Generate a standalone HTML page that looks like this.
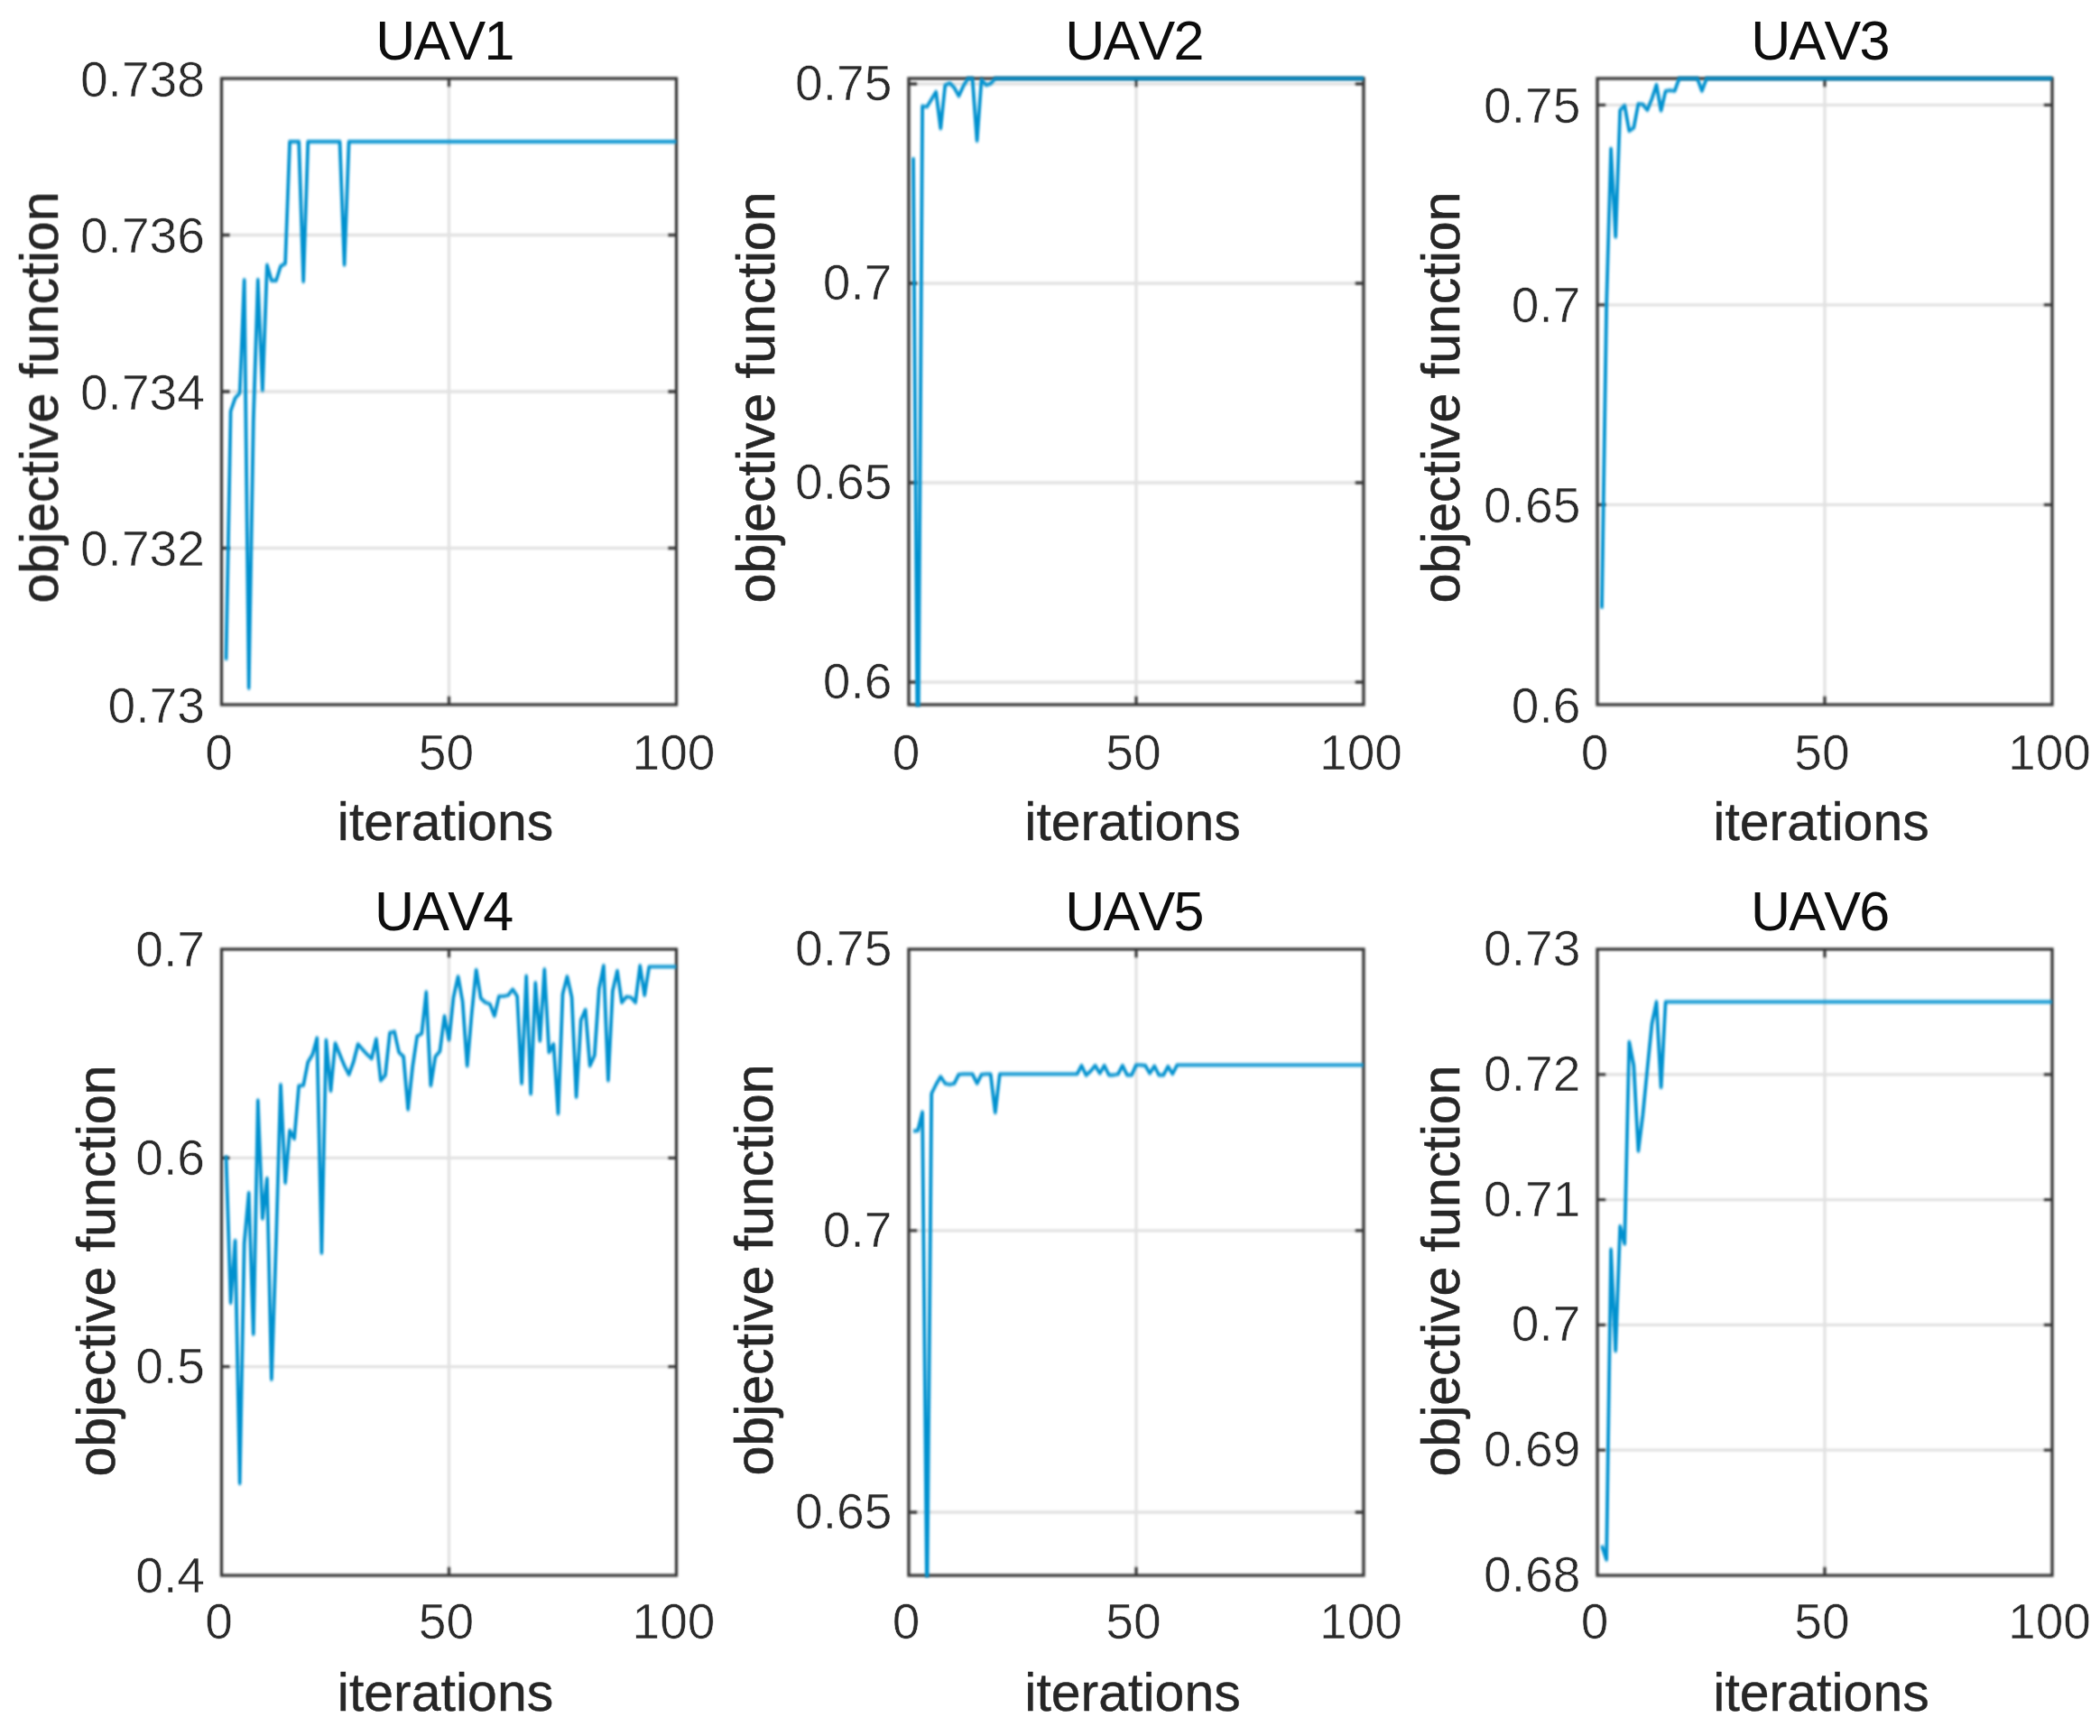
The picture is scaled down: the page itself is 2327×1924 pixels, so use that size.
<!DOCTYPE html>
<html lang="en"><head><meta charset="utf-8"><title>UAV objective function vs iterations</title>
<style>html,body{margin:0;padding:0;background:#fff}svg{display:block}text{font-family:"Liberation Sans",Arial,Helvetica,sans-serif}.tk{font-size:55.2px;fill:#2a2a2a;stroke:#fff;stroke-width:0.6px}.lb{font-size:59px;fill:#262626;stroke:#262626;stroke-width:0.4px}.yl{stroke-width:0.6px}.tt{font-size:61px;fill:#0a0a0a;font-kerning:none;letter-spacing:-1.75px}</style></head><body>
<svg width="2327" height="1924" viewBox="0 0 2327 1924">
<defs><filter id="bl" filterUnits="userSpaceOnUse" x="0" y="0" width="2327" height="1924"><feGaussianBlur stdDeviation="1.3"/></filter><filter id="bd" filterUnits="userSpaceOnUse" x="0" y="0" width="2327" height="1924"><feGaussianBlur stdDeviation="0.8 1.5"/></filter><filter id="bt" filterUnits="userSpaceOnUse" x="0" y="0" width="2327" height="1924"><feGaussianBlur stdDeviation="0.7"/></filter></defs>
<rect width="2327" height="1924" fill="#fff"/>
<g filter="url(#bl)">
<g id="ax1">
<clipPath id="c0"><rect x="245.5" y="85.8" width="505.0" height="696.4"/></clipPath>
<path d="M245.5 260.5H749.5M245.5 434H749.5M245.5 607.5H749.5M497.5 87V781" stroke="#e2e2e2" stroke-width="3.3" fill="none"/>
<rect x="245.5" y="87" width="504.0" height="694" fill="none" stroke="#383838" stroke-width="3.3"/>
<path d="M245.5 260.5h9.5M749.5 260.5h-9.5M245.5 434h9.5M749.5 434h-9.5M245.5 607.5h9.5M749.5 607.5h-9.5M497.5 781v-9.5M497.5 87v9.5" stroke="#383838" stroke-width="3.3" fill="none"/>
</g>
<g id="ax2">
<clipPath id="c1"><rect x="1007" y="85.8" width="505" height="696.4"/></clipPath>
<path d="M1007 93H1511M1007 314H1511M1007 535H1511M1007 756H1511M1259 87V781" stroke="#e2e2e2" stroke-width="3.3" fill="none"/>
<rect x="1007" y="87" width="504" height="694" fill="none" stroke="#383838" stroke-width="3.3"/>
<path d="M1007 93h9.5M1511 93h-9.5M1007 314h9.5M1511 314h-9.5M1007 535h9.5M1511 535h-9.5M1007 756h9.5M1511 756h-9.5M1259 781v-9.5M1259 87v9.5" stroke="#383838" stroke-width="3.3" fill="none"/>
</g>
<g id="ax3">
<clipPath id="c2"><rect x="1770" y="85.8" width="505" height="696.4"/></clipPath>
<path d="M1770 116.3H2274M1770 337.9H2274M1770 559.4H2274M2022 87V781" stroke="#e2e2e2" stroke-width="3.3" fill="none"/>
<rect x="1770" y="87" width="504" height="694" fill="none" stroke="#383838" stroke-width="3.3"/>
<path d="M1770 116.3h9.5M2274 116.3h-9.5M1770 337.9h9.5M2274 337.9h-9.5M1770 559.4h9.5M2274 559.4h-9.5M2022 781v-9.5M2022 87v9.5" stroke="#383838" stroke-width="3.3" fill="none"/>
</g>
<g id="ax4">
<clipPath id="c3"><rect x="245.5" y="1050.8" width="505.0" height="696.4"/></clipPath>
<path d="M245.5 1283.3H749.5M245.5 1514.7H749.5M497.5 1052V1746" stroke="#e2e2e2" stroke-width="3.3" fill="none"/>
<rect x="245.5" y="1052" width="504.0" height="694" fill="none" stroke="#383838" stroke-width="3.3"/>
<path d="M245.5 1283.3h9.5M749.5 1283.3h-9.5M245.5 1514.7h9.5M749.5 1514.7h-9.5M497.5 1746v-9.5M497.5 1052v9.5" stroke="#383838" stroke-width="3.3" fill="none"/>
</g>
<g id="ax5">
<clipPath id="c4"><rect x="1007" y="1050.8" width="505" height="696.4"/></clipPath>
<path d="M1007 1363.8H1511M1007 1676H1511M1259 1052V1746" stroke="#e2e2e2" stroke-width="3.3" fill="none"/>
<rect x="1007" y="1052" width="504" height="694" fill="none" stroke="#383838" stroke-width="3.3"/>
<path d="M1007 1363.8h9.5M1511 1363.8h-9.5M1007 1676h9.5M1511 1676h-9.5M1259 1746v-9.5M1259 1052v9.5" stroke="#383838" stroke-width="3.3" fill="none"/>
</g>
<g id="ax6">
<clipPath id="c5"><rect x="1770" y="1050.8" width="505" height="696.4"/></clipPath>
<path d="M1770 1190.8H2274M1770 1329.6H2274M1770 1468.4H2274M1770 1607.2H2274M2022 1052V1746" stroke="#e2e2e2" stroke-width="3.3" fill="none"/>
<rect x="1770" y="1052" width="504" height="694" fill="none" stroke="#383838" stroke-width="3.3"/>
<path d="M1770 1190.8h9.5M2274 1190.8h-9.5M1770 1329.6h9.5M2274 1329.6h-9.5M1770 1468.4h9.5M2274 1468.4h-9.5M1770 1607.2h9.5M2274 1607.2h-9.5M2022 1746v-9.5M2022 1052v9.5" stroke="#383838" stroke-width="3.3" fill="none"/>
</g>
</g>
<g filter="url(#bd)">
<polyline clip-path="url(#c0)" points="250.5,731.6 255.6,455.7 260.6,441.3 265.7,435.5 270.7,310.2 275.7,762.6 280.8,466.0 285.8,310.0 290.9,432.6 295.9,293.6 300.9,311.0 306.0,311.0 311.0,295.0 316.1,292.0 321.1,157.0 326.1,157.0 331.2,157.0 336.2,312.0 341.3,157.0 346.3,157.0 351.3,157.0 356.4,157.0 361.4,157.0 366.5,157.0 371.5,157.0 376.5,157.0 381.6,293.6 386.6,157.0 391.7,157.0 396.7,157.0 401.7,157.0 406.8,157.0 411.8,157.0 416.9,157.0 421.9,157.0 426.9,157.0 432.0,157.0 437.0,157.0 442.1,157.0 447.1,157.0 452.1,157.0 457.2,157.0 462.2,157.0 467.3,157.0 472.3,157.0 477.3,157.0 482.4,157.0 487.4,157.0 492.5,157.0 497.5,157.0 502.5,157.0 507.6,157.0 512.6,157.0 517.7,157.0 522.7,157.0 527.7,157.0 532.8,157.0 537.8,157.0 542.9,157.0 547.9,157.0 552.9,157.0 558.0,157.0 563.0,157.0 568.1,157.0 573.1,157.0 578.1,157.0 583.2,157.0 588.2,157.0 593.3,157.0 598.3,157.0 603.3,157.0 608.4,157.0 613.4,157.0 618.5,157.0 623.5,157.0 628.5,157.0 633.6,157.0 638.6,157.0 643.7,157.0 648.7,157.0 653.7,157.0 658.8,157.0 663.8,157.0 668.9,157.0 673.9,157.0 678.9,157.0 684.0,157.0 689.0,157.0 694.1,157.0 699.1,157.0 704.1,157.0 709.2,157.0 714.2,157.0 719.3,157.0 724.3,157.0 729.3,157.0 734.4,157.0 739.4,157.0 744.5,157.0 749.5,157.0" fill="none" stroke="#0091cf" stroke-width="3.8" stroke-linejoin="round" stroke-linecap="butt"/>
<polyline clip-path="url(#c1)" points="1012.0,174.6 1017.1,900.0 1022.1,117.5 1027.2,118.4 1032.2,110.0 1037.2,101.8 1042.3,142.4 1047.3,94.4 1052.4,92.1 1057.4,97.2 1062.4,106.4 1067.5,95.4 1072.5,87.0 1077.6,87.0 1082.6,156.2 1087.6,88.0 1092.7,94.4 1097.7,92.6 1102.8,87.0 1107.8,87.0 1112.8,87.0 1117.9,87.0 1122.9,87.0 1128.0,87.0 1133.0,87.0 1138.0,87.0 1143.1,87.0 1148.1,87.0 1153.2,87.0 1158.2,87.0 1163.2,87.0 1168.3,87.0 1173.3,87.0 1178.4,87.0 1183.4,87.0 1188.4,87.0 1193.5,87.0 1198.5,87.0 1203.6,87.0 1208.6,87.0 1213.6,87.0 1218.7,87.0 1223.7,87.0 1228.8,87.0 1233.8,87.0 1238.8,87.0 1243.9,87.0 1248.9,87.0 1254.0,87.0 1259.0,87.0 1264.0,87.0 1269.1,87.0 1274.1,87.0 1279.2,87.0 1284.2,87.0 1289.2,87.0 1294.3,87.0 1299.3,87.0 1304.4,87.0 1309.4,87.0 1314.4,87.0 1319.5,87.0 1324.5,87.0 1329.6,87.0 1334.6,87.0 1339.6,87.0 1344.7,87.0 1349.7,87.0 1354.8,87.0 1359.8,87.0 1364.8,87.0 1369.9,87.0 1374.9,87.0 1380.0,87.0 1385.0,87.0 1390.0,87.0 1395.1,87.0 1400.1,87.0 1405.2,87.0 1410.2,87.0 1415.2,87.0 1420.3,87.0 1425.3,87.0 1430.4,87.0 1435.4,87.0 1440.4,87.0 1445.5,87.0 1450.5,87.0 1455.6,87.0 1460.6,87.0 1465.6,87.0 1470.7,87.0 1475.7,87.0 1480.8,87.0 1485.8,87.0 1490.8,87.0 1495.9,87.0 1500.9,87.0 1506.0,87.0 1511.0,87.0" fill="none" stroke="#0091cf" stroke-width="3.8" stroke-linejoin="round" stroke-linecap="butt"/>
<polyline clip-path="url(#c2)" points="1775.0,674.4 1780.1,338.0 1785.1,164.7 1790.2,262.6 1795.2,122.0 1800.2,116.9 1805.3,145.1 1810.3,141.7 1815.4,115.2 1820.4,115.7 1825.4,122.0 1830.5,109.4 1835.5,93.9 1840.6,122.7 1845.6,100.8 1850.6,100.2 1855.7,100.8 1860.7,87.0 1865.8,87.0 1870.8,87.0 1875.8,87.0 1880.9,87.0 1885.9,100.8 1891.0,87.0 1896.0,87.0 1901.0,87.0 1906.1,87.0 1911.1,87.0 1916.2,87.0 1921.2,87.0 1926.2,87.0 1931.3,87.0 1936.3,87.0 1941.4,87.0 1946.4,87.0 1951.4,87.0 1956.5,87.0 1961.5,87.0 1966.6,87.0 1971.6,87.0 1976.6,87.0 1981.7,87.0 1986.7,87.0 1991.8,87.0 1996.8,87.0 2001.8,87.0 2006.9,87.0 2011.9,87.0 2017.0,87.0 2022.0,87.0 2027.0,87.0 2032.1,87.0 2037.1,87.0 2042.2,87.0 2047.2,87.0 2052.2,87.0 2057.3,87.0 2062.3,87.0 2067.4,87.0 2072.4,87.0 2077.4,87.0 2082.5,87.0 2087.5,87.0 2092.6,87.0 2097.6,87.0 2102.6,87.0 2107.7,87.0 2112.7,87.0 2117.8,87.0 2122.8,87.0 2127.8,87.0 2132.9,87.0 2137.9,87.0 2143.0,87.0 2148.0,87.0 2153.0,87.0 2158.1,87.0 2163.1,87.0 2168.2,87.0 2173.2,87.0 2178.2,87.0 2183.3,87.0 2188.3,87.0 2193.4,87.0 2198.4,87.0 2203.4,87.0 2208.5,87.0 2213.5,87.0 2218.6,87.0 2223.6,87.0 2228.6,87.0 2233.7,87.0 2238.7,87.0 2243.8,87.0 2248.8,87.0 2253.8,87.0 2258.9,87.0 2263.9,87.0 2269.0,87.0 2274.0,87.0" fill="none" stroke="#0091cf" stroke-width="3.8" stroke-linejoin="round" stroke-linecap="butt"/>
<polyline clip-path="url(#c3)" points="250.5,1280.6 255.6,1444.0 260.6,1374.9 265.7,1644.0 270.7,1378.0 275.7,1322.0 280.8,1478.6 285.8,1219.5 290.9,1350.7 295.9,1306.0 300.9,1528.8 306.0,1375.0 311.0,1202.2 316.1,1311.0 321.1,1252.9 326.1,1262.1 331.2,1203.4 336.2,1202.8 341.3,1176.9 346.3,1168.8 351.3,1150.4 356.4,1388.7 361.4,1152.7 366.5,1209.1 371.5,1156.1 376.5,1168.8 381.6,1181.0 386.6,1191.0 391.7,1177.0 396.7,1157.2 401.7,1162.9 406.8,1168.7 411.8,1173.3 416.9,1151.4 421.9,1197.5 426.9,1191.7 432.0,1144.5 437.0,1143.3 442.1,1166.4 447.1,1171.0 452.1,1229.7 457.2,1182.0 462.2,1148.5 467.3,1145.6 472.3,1099.5 477.3,1203.2 482.4,1171.0 487.4,1165.2 492.5,1126.0 497.5,1152.5 502.5,1105.3 507.6,1082.3 512.6,1110.0 517.7,1181.3 522.7,1123.7 527.7,1074.8 532.8,1106.5 537.8,1111.0 542.9,1112.8 547.9,1126.0 552.9,1104.1 558.0,1104.1 563.0,1103.0 568.1,1096.6 573.1,1104.0 578.1,1200.9 583.2,1081.7 588.2,1212.4 593.3,1089.2 598.3,1153.7 603.3,1074.2 608.4,1166.4 613.4,1157.1 618.5,1234.3 623.5,1101.8 628.5,1082.3 633.6,1105.3 638.6,1215.9 643.7,1130.6 648.7,1119.1 653.7,1181.3 658.8,1169.8 663.8,1096.1 668.9,1070.2 673.9,1197.5 678.9,1098.4 684.0,1075.9 689.0,1111.1 694.1,1104.7 699.1,1105.3 704.1,1111.1 709.2,1070.2 714.2,1103.0 719.3,1071.3 724.3,1071.3 729.3,1071.3 734.4,1071.3 739.4,1071.3 744.5,1071.3 749.5,1071.3" fill="none" stroke="#0091cf" stroke-width="3.8" stroke-linejoin="round" stroke-linecap="butt"/>
<polyline clip-path="url(#c4)" points="1012.0,1253.6 1017.1,1253.0 1022.1,1232.5 1027.2,1790.0 1032.2,1212.0 1037.2,1202.0 1042.3,1193.3 1047.3,1200.8 1052.4,1202.0 1057.4,1200.8 1062.4,1190.9 1067.5,1190.4 1072.5,1190.4 1077.6,1190.4 1082.6,1200.8 1087.6,1190.9 1092.7,1190.4 1097.7,1190.4 1102.8,1233.0 1107.8,1190.4 1112.8,1190.4 1117.9,1190.4 1122.9,1190.4 1128.0,1190.4 1133.0,1190.4 1138.0,1190.4 1143.1,1190.4 1148.1,1190.4 1153.2,1190.4 1158.2,1190.4 1163.2,1190.4 1168.3,1190.4 1173.3,1190.4 1178.4,1190.4 1183.4,1190.4 1188.4,1190.4 1193.5,1190.4 1198.5,1181.0 1203.6,1191.7 1208.6,1187.0 1213.6,1181.0 1218.7,1189.6 1223.7,1181.0 1228.8,1191.5 1233.8,1191.5 1238.8,1190.5 1243.9,1181.0 1248.9,1191.5 1254.0,1191.5 1259.0,1180.3 1264.0,1180.3 1269.1,1181.0 1274.1,1189.6 1279.2,1181.5 1284.2,1191.5 1289.2,1191.5 1294.3,1182.0 1299.3,1190.2 1304.4,1180.3 1309.4,1180.3 1314.4,1180.3 1319.5,1180.3 1324.5,1180.3 1329.6,1180.3 1334.6,1180.3 1339.6,1180.3 1344.7,1180.3 1349.7,1180.3 1354.8,1180.3 1359.8,1180.3 1364.8,1180.3 1369.9,1180.3 1374.9,1180.3 1380.0,1180.3 1385.0,1180.3 1390.0,1180.3 1395.1,1180.3 1400.1,1180.3 1405.2,1180.3 1410.2,1180.3 1415.2,1180.3 1420.3,1180.3 1425.3,1180.3 1430.4,1180.3 1435.4,1180.3 1440.4,1180.3 1445.5,1180.3 1450.5,1180.3 1455.6,1180.3 1460.6,1180.3 1465.6,1180.3 1470.7,1180.3 1475.7,1180.3 1480.8,1180.3 1485.8,1180.3 1490.8,1180.3 1495.9,1180.3 1500.9,1180.3 1506.0,1180.3 1511.0,1180.3" fill="none" stroke="#0091cf" stroke-width="3.8" stroke-linejoin="round" stroke-linecap="butt"/>
<polyline clip-path="url(#c5)" points="1775.0,1712.9 1780.1,1728.6 1785.1,1384.7 1790.2,1497.4 1795.2,1359.0 1800.2,1378.6 1805.3,1154.6 1810.3,1180.9 1815.4,1275.7 1820.4,1235.3 1825.4,1184.9 1830.5,1134.5 1835.5,1110.3 1840.6,1205.1 1845.6,1110.3 1850.6,1110.3 1855.7,1110.3 1860.7,1110.3 1865.8,1110.3 1870.8,1110.3 1875.8,1110.3 1880.9,1110.3 1885.9,1110.3 1891.0,1110.3 1896.0,1110.3 1901.0,1110.3 1906.1,1110.3 1911.1,1110.3 1916.2,1110.3 1921.2,1110.3 1926.2,1110.3 1931.3,1110.3 1936.3,1110.3 1941.4,1110.3 1946.4,1110.3 1951.4,1110.3 1956.5,1110.3 1961.5,1110.3 1966.6,1110.3 1971.6,1110.3 1976.6,1110.3 1981.7,1110.3 1986.7,1110.3 1991.8,1110.3 1996.8,1110.3 2001.8,1110.3 2006.9,1110.3 2011.9,1110.3 2017.0,1110.3 2022.0,1110.3 2027.0,1110.3 2032.1,1110.3 2037.1,1110.3 2042.2,1110.3 2047.2,1110.3 2052.2,1110.3 2057.3,1110.3 2062.3,1110.3 2067.4,1110.3 2072.4,1110.3 2077.4,1110.3 2082.5,1110.3 2087.5,1110.3 2092.6,1110.3 2097.6,1110.3 2102.6,1110.3 2107.7,1110.3 2112.7,1110.3 2117.8,1110.3 2122.8,1110.3 2127.8,1110.3 2132.9,1110.3 2137.9,1110.3 2143.0,1110.3 2148.0,1110.3 2153.0,1110.3 2158.1,1110.3 2163.1,1110.3 2168.2,1110.3 2173.2,1110.3 2178.2,1110.3 2183.3,1110.3 2188.3,1110.3 2193.4,1110.3 2198.4,1110.3 2203.4,1110.3 2208.5,1110.3 2213.5,1110.3 2218.6,1110.3 2223.6,1110.3 2228.6,1110.3 2233.7,1110.3 2238.7,1110.3 2243.8,1110.3 2248.8,1110.3 2253.8,1110.3 2258.9,1110.3 2263.9,1110.3 2269.0,1110.3 2274.0,1110.3" fill="none" stroke="#0091cf" stroke-width="3.8" stroke-linejoin="round" stroke-linecap="butt"/>
</g>
<g filter="url(#bt)">
<g id="tx1">
<text class="tk" x="227.0" y="106.5" text-anchor="end">0.738</text>
<text class="tk" x="227.0" y="280.0" text-anchor="end">0.736</text>
<text class="tk" x="227.0" y="453.5" text-anchor="end">0.734</text>
<text class="tk" x="227.0" y="627.0" text-anchor="end">0.732</text>
<text class="tk" x="227.0" y="800.5" text-anchor="end">0.73</text>
<text class="tk" x="242.5" y="852.6" text-anchor="middle">0</text>
<text class="tk" x="494.5" y="852.6" text-anchor="middle">50</text>
<text class="tk" x="746.5" y="852.6" text-anchor="middle">100</text>
<text class="lb" x="493.5" y="930.6" text-anchor="middle">iterations</text>
<text class="lb yl" transform="translate(63.9 440.5) rotate(-90)" text-anchor="middle">objective function</text>
<text class="tt" x="492.5" y="65.7" text-anchor="middle">UAV1</text>
</g>
<g id="tx2">
<text class="tk" x="988.5" y="111.0" text-anchor="end">0.75</text>
<text class="tk" x="988.5" y="332.0" text-anchor="end">0.7</text>
<text class="tk" x="988.5" y="553.0" text-anchor="end">0.65</text>
<text class="tk" x="988.5" y="774.0" text-anchor="end">0.6</text>
<text class="tk" x="1004.0" y="852.6" text-anchor="middle">0</text>
<text class="tk" x="1256.0" y="852.6" text-anchor="middle">50</text>
<text class="tk" x="1508.0" y="852.6" text-anchor="middle">100</text>
<text class="lb" x="1255.0" y="930.6" text-anchor="middle">iterations</text>
<text class="lb yl" transform="translate(858.0 440.5) rotate(-90)" text-anchor="middle">objective function</text>
<text class="tt" x="1256.4" y="65.7" text-anchor="middle">UAV2</text>
</g>
<g id="tx3">
<text class="tk" x="1751.5" y="135.8" text-anchor="end">0.75</text>
<text class="tk" x="1751.5" y="357.4" text-anchor="end">0.7</text>
<text class="tk" x="1751.5" y="578.9" text-anchor="end">0.65</text>
<text class="tk" x="1751.5" y="800.5" text-anchor="end">0.6</text>
<text class="tk" x="1767.0" y="852.6" text-anchor="middle">0</text>
<text class="tk" x="2019.0" y="852.6" text-anchor="middle">50</text>
<text class="tk" x="2271.0" y="852.6" text-anchor="middle">100</text>
<text class="lb" x="2018.0" y="930.6" text-anchor="middle">iterations</text>
<text class="lb yl" transform="translate(1617.0 440.5) rotate(-90)" text-anchor="middle">objective function</text>
<text class="tt" x="2016.5" y="65.7" text-anchor="middle">UAV3</text>
</g>
<g id="tx4">
<text class="tk" x="227.0" y="1070.5" text-anchor="end">0.7</text>
<text class="tk" x="227.0" y="1301.8" text-anchor="end">0.6</text>
<text class="tk" x="227.0" y="1533.2" text-anchor="end">0.5</text>
<text class="tk" x="227.0" y="1764.5" text-anchor="end">0.4</text>
<text class="tk" x="242.5" y="1816.1" text-anchor="middle">0</text>
<text class="tk" x="494.5" y="1816.1" text-anchor="middle">50</text>
<text class="tk" x="746.5" y="1816.1" text-anchor="middle">100</text>
<text class="lb" x="493.5" y="1895.6" text-anchor="middle">iterations</text>
<text class="lb yl" transform="translate(127.0 1408.5) rotate(-90)" text-anchor="middle">objective function</text>
<text class="tt" x="491.2" y="1030.7" text-anchor="middle">UAV4</text>
</g>
<g id="tx5">
<text class="tk" x="988.5" y="1070.0" text-anchor="end">0.75</text>
<text class="tk" x="988.5" y="1381.8" text-anchor="end">0.7</text>
<text class="tk" x="988.5" y="1694.0" text-anchor="end">0.65</text>
<text class="tk" x="1004.0" y="1816.1" text-anchor="middle">0</text>
<text class="tk" x="1256.0" y="1816.1" text-anchor="middle">50</text>
<text class="tk" x="1508.0" y="1816.1" text-anchor="middle">100</text>
<text class="lb" x="1255.0" y="1895.6" text-anchor="middle">iterations</text>
<text class="lb yl" transform="translate(856.0 1407.5) rotate(-90)" text-anchor="middle">objective function</text>
<text class="tt" x="1256.5" y="1030.7" text-anchor="middle">UAV5</text>
</g>
<g id="tx6">
<text class="tk" x="1751.5" y="1070.0" text-anchor="end">0.73</text>
<text class="tk" x="1751.5" y="1208.8" text-anchor="end">0.72</text>
<text class="tk" x="1751.5" y="1347.6" text-anchor="end">0.71</text>
<text class="tk" x="1751.5" y="1486.4" text-anchor="end">0.7</text>
<text class="tk" x="1751.5" y="1625.2" text-anchor="end">0.69</text>
<text class="tk" x="1751.5" y="1764.0" text-anchor="end">0.68</text>
<text class="tk" x="1767.0" y="1816.1" text-anchor="middle">0</text>
<text class="tk" x="2019.0" y="1816.1" text-anchor="middle">50</text>
<text class="tk" x="2271.0" y="1816.1" text-anchor="middle">100</text>
<text class="lb" x="2018.0" y="1895.6" text-anchor="middle">iterations</text>
<text class="lb yl" transform="translate(1617.0 1408.5) rotate(-90)" text-anchor="middle">objective function</text>
<text class="tt" x="2016.2" y="1030.7" text-anchor="middle">UAV6</text>
</g>
</g>
</svg></body></html>
